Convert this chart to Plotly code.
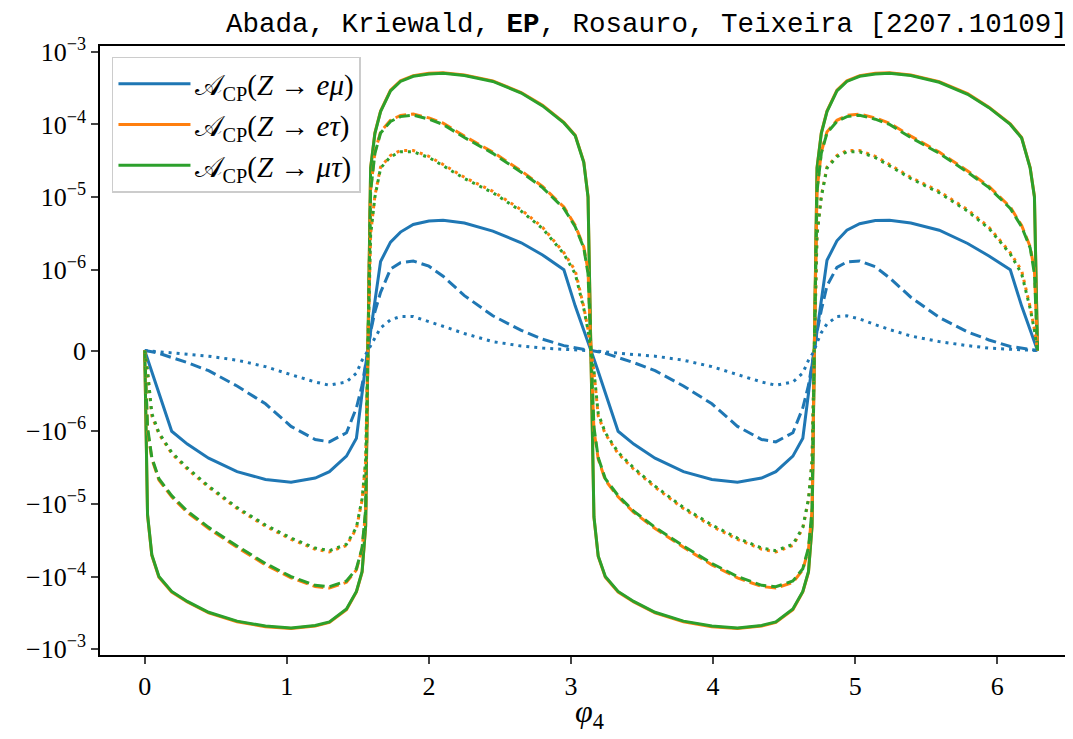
import numpy as np
import plotly.graph_objects as go

# phi_4 sample points (two periods)
phi = [0, 0.02, 0.05, 0.1, 0.19, 0.3, 0.45, 0.65, 0.85, 1.03, 1.2, 1.3, 1.42, 1.49, 1.53, 1.555, 1.5708,
       1.59, 1.62, 1.66, 1.73, 1.8, 1.89, 2.0, 2.1, 2.25, 2.45, 2.65, 2.8, 2.95, 3.03, 3.09, 3.12, 3.1416,
       3.1616, 3.1916, 3.2416, 3.3316, 3.4416, 3.5916, 3.7916, 3.9916, 4.1716, 4.3416, 4.4416, 4.5616, 4.6316,
       4.6716, 4.6966, 4.7124, 4.7316, 4.7616, 4.8016, 4.8716, 4.9416, 5.0316, 5.1416, 5.2416, 5.3916, 5.5916,
       5.7916, 5.9416, 6.0916, 6.1716, 6.2316, 6.2616, 6.2832]

# A_CP(Z -> e mu): benchmark a (solid), b (dashed), c (dotted)
emu_a = [0, -1.05e-7, -2.6e-7, -5.3e-7, -1.0e-6, -1.5e-6, -2.35e-6, -3.6e-6, -4.6e-6, -5.05e-6, -4.4e-6, -3.6e-6, -2.2e-6, -1.25e-6, -5.0e-7, -1.8e-7, 0,
         2.5e-7, 6.5e-7, 1.3e-6, 2.4e-6, 3.3e-6, 4.2e-6, 4.7e-6, 4.8e-6, 4.4e-6, 3.4e-6, 2.35e-6, 1.6e-6, 1.0e-6, 5.5e-7, 2.6e-7, 1.1e-7, 0,
         -1.05e-7, -2.6e-7, -5.3e-7, -1.0e-6, -1.5e-6, -2.35e-6, -3.6e-6, -4.6e-6, -5.05e-6, -4.4e-6, -3.6e-6, -2.2e-6, -1.25e-6, -5.0e-7, -1.8e-7, 0,
         2.5e-7, 6.5e-7, 1.35e-6, 2.5e-6, 3.5e-6, 4.3e-6, 4.75e-6, 4.8e-6, 4.4e-6, 3.5e-6, 2.3e-6, 1.55e-6, 1.0e-6, 5.5e-7, 2.6e-7, 1.1e-7, 0]
emu_b = [0, -5e-9, -1.5e-8, -3.5e-8, -8.5e-8, -1.5e-7, -2.5e-7, -4.4e-7, -6.6e-7, -9.4e-7, -1.3e-6, -1.4e-6, -1.05e-6, -7.1e-7, -4.3e-7, -1.8e-7, 0,
         2.3e-7, 4.8e-7, 7.2e-7, 1.02e-6, 1.25e-6, 1.32e-6, 1.12e-6, 9.2e-7, 6.8e-7, 4.3e-7, 2.5e-7, 1.4e-7, 6e-8, 3e-8, 1.2e-8, 5e-9, 0,
         -5e-9, -1.5e-8, -3.5e-8, -8.5e-8, -1.5e-7, -2.5e-7, -4.4e-7, -6.6e-7, -9.4e-7, -1.3e-6, -1.4e-6, -1.05e-6, -7.1e-7, -4.3e-7, -1.8e-7, 0,
         2.3e-7, 5.0e-7, 8.0e-7, 1.08e-6, 1.28e-6, 1.32e-6, 1.1e-6, 9.0e-7, 6.6e-7, 4.1e-7, 2.3e-7, 1.3e-7, 5e-8, 3e-8, 1.2e-8, 5e-9, 0]
emu_c = [0, -3e-9, -8e-9, -1.8e-8, -3.5e-8, -5e-8, -7e-8, -1.2e-7, -2.0e-7, -3.0e-7, -3.9e-7, -4.3e-7, -3.9e-7, -2.8e-7, -1.2e-7, -5e-8, 0,
         7e-8, 1.7e-7, 2.8e-7, 3.8e-7, 4.2e-7, 4.2e-7, 3.6e-7, 3.0e-7, 2.1e-7, 1.1e-7, 5.5e-8, 3e-8, 1.5e-8, 8e-9, 4e-9, 2e-9, 0,
         -3e-9, -8e-9, -1.8e-8, -3.5e-8, -5e-8, -7e-8, -1.2e-7, -2.0e-7, -3.0e-7, -3.9e-7, -4.3e-7, -3.9e-7, -2.8e-7, -1.2e-7, -5e-8, 0,
         1.0e-7, 2.2e-7, 3.3e-7, 4.2e-7, 4.3e-7, 3.9e-7, 3.2e-7, 2.6e-7, 1.8e-7, 1.1e-7, 6e-8, 3e-8, 1.5e-8, 8e-9, 4e-9, 2e-9, 0]

# A_CP(Z -> e tau)
etau_a = [0, -1.43e-5, -5.1e-5, -1.02e-4, -1.63e-4, -2.24e-4, -3.16e-4, -4.18e-4, -4.9e-4, -5.2e-4, -4.8e-4, -4.28e-4, -2.86e-4, -1.63e-4, -8.7e-5, -2.04e-5, 0,
          2.55e-5, 7.65e-5, 1.53e-4, 2.96e-4, 3.98e-4, 4.69e-4, 5.05e-4, 5.15e-4, 4.8e-4, 3.98e-4, 2.75e-4, 1.84e-4, 1.07e-4, 7.1e-5, 3.06e-5, 1.02e-5, 0,
          -1.53e-5, -5.3e-5, -1.02e-4, -1.63e-4, -2.24e-4, -3.16e-4, -4.18e-4, -4.9e-4, -5.2e-4, -4.8e-4, -4.28e-4, -2.86e-4, -1.63e-4, -8.7e-5, -2.04e-5, 0,
          2.55e-5, 7.65e-5, 1.53e-4, 2.96e-4, 3.98e-4, 4.69e-4, 5.05e-4, 5.15e-4, 4.8e-4, 3.88e-4, 2.65e-4, 1.73e-4, 1.02e-4, 6.6e-5, 2.55e-5, 1.02e-5, 0]
etau_b = [0, -9.9e-7, -2.4e-6, -4.7e-6, -8.0e-6, -1.31e-5, -2.18e-5, -3.95e-5, -6.9e-5, -1.04e-4, -1.37e-4, -1.44e-4, -1.2e-4, -8.1e-5, -4.16e-5, -1.25e-5, 0,
          1.25e-5, 4.16e-5, 7.9e-5, 1.14e-4, 1.33e-4, 1.39e-4, 1.23e-4, 1.04e-4, 6.9e-5, 4.16e-5, 2.29e-5, 1.4e-5, 7.3e-6, 4.06e-6, 2.08e-6, 9.9e-7, 0,
          -9.9e-7, -2.4e-6, -4.7e-6, -8.0e-6, -1.31e-5, -2.18e-5, -3.95e-5, -6.9e-5, -1.04e-4, -1.37e-4, -1.44e-4, -1.2e-4, -8.1e-5, -4.16e-5, -1.25e-5, 0,
          1.25e-5, 4.16e-5, 7.9e-5, 1.14e-4, 1.33e-4, 1.39e-4, 1.23e-4, 1.04e-4, 6.9e-5, 4.16e-5, 2.29e-5, 1.4e-5, 7.3e-6, 4.06e-6, 2.08e-6, 9.9e-7, 0]
etau_c = [0, -2.6e-7, -8.1e-7, -1.09e-6, -2.03e-6, -3.33e-6, -5.9e-6, -1.16e-5, -2.03e-5, -3.07e-5, -4.2e-5, -4.58e-5, -3.74e-5, -2.18e-5, -8.8e-6, -2.6e-6, 0,
          3.1e-6, 1.04e-5, 2.6e-5, 3.74e-5, 4.37e-5, 4.37e-5, 3.64e-5, 2.81e-5, 1.87e-5, 1.2e-5, 6.7e-6, 3.85e-6, 1.72e-6, 9.9e-7, 5.4e-7, 2.6e-7, 0,
          -2.6e-7, -8.1e-7, -1.09e-6, -2.03e-6, -3.33e-6, -5.9e-6, -1.16e-5, -2.03e-5, -3.07e-5, -4.2e-5, -4.58e-5, -3.74e-5, -2.18e-5, -8.8e-6, -2.6e-6, 0,
          3.1e-6, 1.04e-5, 2.6e-5, 3.74e-5, 4.37e-5, 4.37e-5, 3.64e-5, 2.81e-5, 1.87e-5, 1.2e-5, 6.7e-6, 3.85e-6, 1.72e-6, 9.9e-7, 5.4e-7, 2.6e-7, 0]

# A_CP(Z -> mu tau)
mutau_a = [0, -1.4e-5, -5.0e-5, -1.0e-4, -1.6e-4, -2.2e-4, -3.1e-4, -4.1e-4, -4.8e-4, -5.1e-4, -4.7e-4, -4.2e-4, -2.8e-4, -1.6e-4, -8.5e-5, -2.0e-5, 0,
           2.5e-5, 7.5e-5, 1.5e-4, 2.9e-4, 3.9e-4, 4.6e-4, 4.95e-4, 5.05e-4, 4.7e-4, 3.9e-4, 2.7e-4, 1.8e-4, 1.05e-4, 7.0e-5, 3.0e-5, 1.0e-5, 0,
           -1.5e-5, -5.2e-5, -1.0e-4, -1.6e-4, -2.2e-4, -3.1e-4, -4.1e-4, -4.8e-4, -5.1e-4, -4.7e-4, -4.2e-4, -2.8e-4, -1.6e-4, -8.5e-5, -2.0e-5, 0,
           2.5e-5, 7.5e-5, 1.5e-4, 2.9e-4, 3.9e-4, 4.6e-4, 4.95e-4, 5.05e-4, 4.7e-4, 3.8e-4, 2.6e-4, 1.7e-4, 1.0e-4, 6.5e-5, 2.5e-5, 1.0e-5, 0]
mutau_b = [0, -9.5e-7, -2.3e-6, -4.5e-6, -7.7e-6, -1.26e-5, -2.1e-5, -3.8e-5, -6.6e-5, -1.0e-4, -1.32e-4, -1.38e-4, -1.15e-4, -7.8e-5, -4.0e-5, -1.2e-5, 0,
           1.2e-5, 4.0e-5, 7.6e-5, 1.1e-4, 1.28e-4, 1.34e-4, 1.18e-4, 1.0e-4, 6.6e-5, 4.0e-5, 2.2e-5, 1.35e-5, 7.0e-6, 3.9e-6, 2.0e-6, 9.5e-7, 0,
           -9.5e-7, -2.3e-6, -4.5e-6, -7.7e-6, -1.26e-5, -2.1e-5, -3.8e-5, -6.6e-5, -1.0e-4, -1.32e-4, -1.38e-4, -1.15e-4, -7.8e-5, -4.0e-5, -1.2e-5, 0,
           1.2e-5, 4.0e-5, 7.6e-5, 1.1e-4, 1.28e-4, 1.34e-4, 1.18e-4, 1.0e-4, 6.6e-5, 4.0e-5, 2.2e-5, 1.35e-5, 7.0e-6, 3.9e-6, 2.0e-6, 9.5e-7, 0]
mutau_c = [0, -2.5e-7, -7.8e-7, -1.05e-6, -1.95e-6, -3.2e-6, -5.7e-6, -1.12e-5, -1.95e-5, -2.95e-5, -4.05e-5, -4.4e-5, -3.6e-5, -2.1e-5, -8.5e-6, -2.5e-6, 0,
           3.0e-6, 1.0e-5, 2.5e-5, 3.6e-5, 4.2e-5, 4.2e-5, 3.5e-5, 2.7e-5, 1.8e-5, 1.15e-5, 6.4e-6, 3.7e-6, 1.65e-6, 9.5e-7, 5.2e-7, 2.5e-7, 0,
           -2.5e-7, -7.8e-7, -1.05e-6, -1.95e-6, -3.2e-6, -5.7e-6, -1.12e-5, -1.95e-5, -2.95e-5, -4.05e-5, -4.4e-5, -3.6e-5, -2.1e-5, -8.5e-6, -2.5e-6, 0,
           3.0e-6, 1.0e-5, 2.5e-5, 3.6e-5, 4.2e-5, 4.2e-5, 3.5e-5, 2.7e-5, 1.8e-5, 1.15e-5, 6.4e-6, 3.7e-6, 1.65e-6, 9.5e-7, 5.2e-7, 2.5e-7, 0]

ytick_values = [-1e-3, -1e-4, -1e-5, -1e-6, 0, 1e-6, 1e-5, 1e-4, 1e-3]
ytick_labels = ["\u221210<sup>\u22123</sup>", "\u221210<sup>\u22124</sup>", "\u221210<sup>\u22125</sup>",
                "\u221210<sup>\u22126</sup>", "0", "10<sup>\u22126</sup>", "10<sup>\u22125</sup>",
                "10<sup>\u22124</sup>", "10<sup>\u22123</sup>"]
xtick_values = [0, 1, 2, 3, 4, 5, 6]
y_limit = 1.2e-3

LINTHRESH = 1e-6
LINSCALE_ADJ = 1.0 / (1.0 - 1.0 / 10.0)


def symlog(v):
    """matplotlib-style symlog scale (linthresh=1e-6, linscale=1), in units of linthresh."""
    v = np.asarray(v, dtype=float)
    a = np.abs(v)
    out = np.sign(v) * (LINSCALE_ADJ + np.log10(np.maximum(a, LINTHRESH) / LINTHRESH))
    inside = a <= LINTHRESH
    out[inside] = v[inside] / LINTHRESH * LINSCALE_ADJ
    return out


BLUE, ORANGE, GREEN = "#1f77b4", "#ff7f0e", "#2ca02c"
channels = [("e\u03bc", BLUE, [emu_a, emu_b, emu_c]),
            ("e\u03c4", ORANGE, [etau_a, etau_b, etau_c]),
            ("\u03bc\u03c4", GREEN, [mutau_a, mutau_b, mutau_c])]
dashes = ["solid", "11px,5px", "3px,5px"]

fig = go.Figure()
for k, dash in enumerate(dashes):
    for name, color, series in channels:
        vals = series[k]
        label = "\U0001D49C<sub>CP</sub>(<i>Z</i> \u2192 <i>%s</i>)" % name
        fig.add_trace(go.Scatter(
            x=phi, y=symlog(vals), customdata=vals, mode="lines",
            line=dict(color=color, width=3, dash=dash),
            name=label, legendgroup=name + str(k), showlegend=(k == 0),
            hovertemplate="\u03c6<sub>4</sub>=%{x:.3f}<br>A=%{customdata:.3g}<extra></extra>",
        ))

serif = "Liberation Serif"
# page body adds an 8px offset; margins compensate so the axes land where the reference has them
fig.update_layout(
    width=1073, height=739,
    margin=dict(l=92, r=8, t=38, b=92, autoexpand=False),
    plot_bgcolor="white", paper_bgcolor="white",
    font=dict(family=serif, size=26, color="black"),
    showlegend=True,
    legend=dict(x=0.0123, y=0.982, xanchor="left", yanchor="top",
                bgcolor="rgba(255,255,255,0.8)", bordercolor="#cccccc", borderwidth=1.5,
                font=dict(family=serif, size=29), tracegroupgap=0, traceorder="grouped",
                itemwidth=72),
    xaxis=dict(range=[-0.3146, 6.533], tickvals=xtick_values, ticks="outside", ticklen=7, tickwidth=1.5,
               showline=True, linecolor="black", linewidth=1.5, mirror=True, showgrid=False, zeroline=False,
               automargin=False, tickfont=dict(family=serif, size=26)),
    yaxis=dict(range=[float(symlog([-y_limit])[0]), float(symlog([y_limit])[0])],
               tickvals=symlog(ytick_values), ticktext=ytick_labels, ticks="outside", ticklen=7, tickwidth=1.5,
               showline=True, linecolor="black", linewidth=1.5, mirror=False, showgrid=False, zeroline=False,
               automargin=False, tickfont=dict(family=serif, size=26)),
)
# x-axis label
fig.add_annotation(text="<i>\u03c6</i><sub>4</sub>", xref="paper", yref="paper", x=0.503, y=0,
                   xanchor="center", yanchor="middle", yshift=-58, showarrow=False,
                   font=dict(family=serif, size=32, color="black"))
fig.add_annotation(text="Abada, Kriewald, <b>EP</b>, Rosauro, Teixeira [2207.10109]",
                   xref="paper", yref="paper", x=0.9969, y=1, xanchor="right", yanchor="bottom", yshift=4,
                   showarrow=False, font=dict(family="Liberation Mono", size=27.5, color="black"))
fig.write_html("out.html")
